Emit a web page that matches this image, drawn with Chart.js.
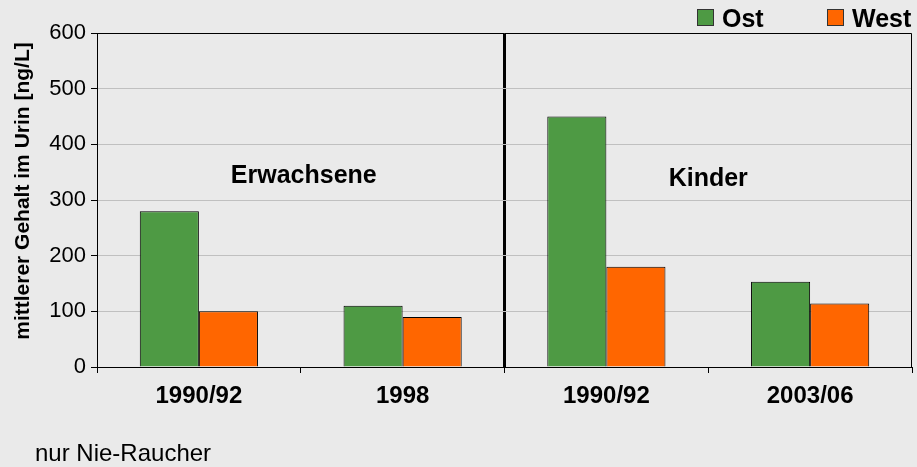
<!DOCTYPE html>
<html>
<head>
<meta charset="utf-8">
<script src="https://cdn.jsdelivr.net/npm/chart.js@4/dist/chart.umd.min.js"></script>
<style>
  html, body { margin: 0; padding: 0; background: #eaeaea; }
  #wrap { width: 917px; height: 467px; }
</style>
</head>
<body>
<div id="wrap"><canvas id="c" width="917" height="467"></canvas></div>
<script>
// --- data ---
const categories = ['1990/92', '1998', '1990/92', '2003/06'];
const groupLabels = ['Erwachsene', 'Kinder'];
const ostValues = [280, 110, 450, 153];
const westValues = [100, 90, 180, 114];
const yMin = 0;
const yMax = 600;
const yStep = 100;
const yTitle = 'mittlerer Gehalt im Urin [ng/L]';
const footnote = 'nur Nie-Raucher';

const FONT = "'Liberation Sans', Arial, sans-serif";
const GREEN = '#4e9a44';
const ORANGE = '#ff6600';

// frame, group labels, legend, axis title, footnote
const decorations = {
  id: 'decorations',
  afterDraw(chart) {
    const { ctx, chartArea: a, scales: { x } } = chart;
    ctx.save();
    // top + right frame
    ctx.strokeStyle = '#000';
    ctx.lineWidth = 1;
    ctx.beginPath();
    ctx.moveTo(a.left, a.top + 0.5);
    ctx.lineTo(a.right - 0.5, a.top + 0.5);
    ctx.lineTo(a.right - 0.5, a.bottom);
    ctx.stroke();

    // group labels
    ctx.fillStyle = '#000';
    ctx.font = `bold 25px ${FONT}`;
    ctx.textAlign = 'center';
    ctx.textBaseline = 'alphabetic';
    const gx0 = (x.getPixelForValue(0) + x.getPixelForValue(1)) / 2 + 3;
    const gx1 = (x.getPixelForValue(2) + x.getPixelForValue(3)) / 2;
    ctx.fillText(groupLabels[0], gx0, 183);
    ctx.fillText(groupLabels[1], gx1, 186);

    // legend
    ctx.textAlign = 'left';
    const items = [[697, 722], [827, 852]];
    chart.data.datasets.forEach((ds, i) => {
      const [bx, tx] = items[i];
      ctx.fillStyle = ds.backgroundColor;
      ctx.fillRect(bx, 9.5, 16, 16);
      ctx.strokeStyle = '#333';
      ctx.strokeRect(bx + 0.5, 9.5, 16, 16);
      ctx.fillStyle = '#000';
      ctx.fillText(ds.label, tx, 27);
    });

    // y title
    ctx.save();
    ctx.translate(29, 191);
    ctx.rotate(-Math.PI / 2);
    ctx.font = `bold 21px ${FONT}`;
    ctx.textAlign = 'center';
    ctx.fillText(yTitle, 0, 0);
    ctx.restore();

    // footnote
    ctx.font = `24px ${FONT}`;
    ctx.textAlign = 'left';
    ctx.fillText(footnote, 35, 461);
    ctx.restore();
  }
};

new Chart(document.getElementById('c'), {
  type: 'bar',
  data: {
    labels: categories,
    datasets: [
      { label: 'Ost', data: ostValues, backgroundColor: GREEN, borderColor: '#000', borderWidth: 1 },
      { label: 'West', data: westValues, backgroundColor: ORANGE, borderColor: '#000', borderWidth: 1 }
    ]
  },
  options: {
    responsive: false,
    animation: false,
    layout: { padding: { top: 33, right: 5, left: 0, bottom: 0 } },
    datasets: { bar: { categoryPercentage: 0.58, barPercentage: 1 } },
    plugins: { legend: { display: false }, tooltip: { enabled: false } },
    scales: {
      x: {
        offset: true,
        afterFit: (s) => { s.height = 100; },
        grid: {
          offset: true,
          drawOnChartArea: true,
          color: (c) => (c.index === 2 ? '#000' : 'rgba(0,0,0,0)'),
          lineWidth: (c) => (c.index === 2 ? 3 : 1),
          tickColor: '#000',
          tickLength: 6,
          tickWidth: 1
        },
        border: { color: '#000', width: 1 },
        ticks: { color: '#000', font: { family: FONT, size: 24, weight: 'bold' }, padding: 9, maxRotation: 0 }
      },
      y: {
        min: yMin,
        max: yMax,
        afterFit: (s) => { s.width = 97; },
        grid: { color: '#c0c0c0', tickColor: '#000', tickLength: 6 },
        border: { color: '#000', width: 1 },
        ticks: { stepSize: yStep, color: '#000', font: { family: FONT, size: 22 }, padding: 5 }
      }
    }
  },
  plugins: [decorations]
});
</script>
</body>
</html>
